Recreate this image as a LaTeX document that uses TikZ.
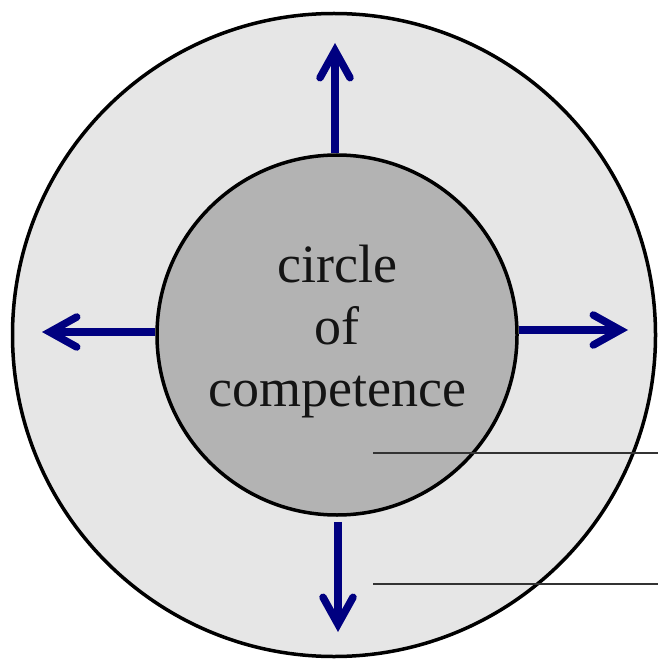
\documentclass[tikz,border=0pt]{standalone}
\usepackage{fontspec}
\setmainfont{Liberation Serif}
\usetikzlibrary{arrows.meta}
\definecolor{ring}{HTML}{E6E6E6}
\definecolor{core}{HTML}{B3B3B3}
\definecolor{navyarrow}{HTML}{000080}

\begin{document}
\begin{tikzpicture}[x=1pt, y=-1pt,
    zone/.style={circle, draw=black, line width=3.5pt, inner sep=0pt},
    outerzone/.style={zone, fill=ring, minimum size=643pt},
    innerzone/.style={zone, fill=core, minimum size=360pt},
    lbl/.style={align=center, font=\fontsize{54}{62}\selectfont, text=black!92},
    expand/.style={-{Straight Barb[length=27pt, width=30pt, line cap=round]},
      line width=7.5pt, navyarrow},
    leader/.style={line width=2.5pt, black!80},
  ]
  \useasboundingbox[fill=white] (0,0) rectangle (658,660);
  % the two zones
  \node[outerzone] (outer) at (334,335) {};
  \node[innerzone] (comp) at (337,335) {};
  \node[lbl] (txt) at (337,332) {circle\\of\\competence};
  % growth directions
  \coordinate (tipn) at (335,43);
  \coordinate (tipw) at (42,332);
  \coordinate (tipe) at (628,330);
  \coordinate (tips) at (338,632);
  \draw[expand] (tipn |- comp.north) -- (tipn);
  \draw[expand] (comp.west |- tipw) -- (tipw);
  \draw[expand] (comp.east |- tipe) -- (tipe);
  \draw[expand] ([yshift=-5pt]tips |- comp.south) -- (tips);
  % leader lines
  \coordinate (la) at (373,453);
  \coordinate (lb) at (658,453);
  \coordinate (lc) at (373,584);
  \coordinate (ld) at (658,584);
  \draw[leader] (la) -- (lb);
  \draw[leader] (lc) -- (ld);
\end{tikzpicture}
\end{document}
